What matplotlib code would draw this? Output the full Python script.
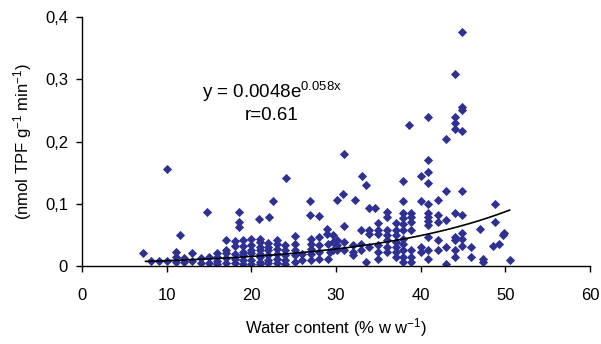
import matplotlib

matplotlib.use("Agg")

import matplotlib.pyplot as plt
import numpy as np

# water content (% w/w) and enzyme activity (nmol TPF g-1 min-1)
water = [
    7.2, 8.1, 9.1, 10.0, 10.0,
    11.1, 11.1, 11.1, 11.6, 12.1, 12.1, 13.0, 13.0, 14.0, 14.0, 14.8,
    15.0, 15.0, 16.0, 16.0, 16.0, 16.0,
    17.0, 17.0, 17.0, 17.0, 17.0,
    18.1, 18.1, 18.1, 18.1, 18.1, 18.6, 18.6, 18.6,
    19.0, 19.0, 19.0, 19.0, 19.0, 19.0,
    20.0, 20.0, 20.0, 20.0, 20.0, 20.0, 20.9,
    21.0, 21.0, 21.0, 21.0, 21.0, 21.0, 21.0, 21.0,
    22.1, 22.0, 22.0, 22.0, 22.0, 22.0, 22.0, 22.6,
    23.0, 23.0, 23.0, 23.0, 23.0, 23.0,
    24.1, 24.0, 24.0, 24.0, 24.0, 24.0,
    25.1, 25.1, 25.1, 25.1, 25.1, 26.0, 26.0,
    26.9, 26.9, 27.0, 27.0, 27.0, 27.0, 27.0,
    28.0, 28.0, 28.0, 28.0, 28.0, 28.9, 28.9, 29.0, 29.0,
    29.3, 29.6, 29.6, 29.6,
    30.1, 30.1, 30.1, 30.1, 30.8,
    30.9, 30.9, 30.9, 30.9,
    32.0, 32.0, 32.0, 32.3, 33.0, 33.0, 33.0, 33.1, 33.6, 33.6,
    33.9, 33.9, 33.9, 33.9, 34.6,
    35.0, 35.0, 35.0, 35.0, 35.0, 35.0,
    36.0, 36.0, 36.0, 36.0, 36.0, 36.0, 36.0,
    37.1, 37.1, 37.1, 37.1, 37.1, 37.1, 37.1,
    37.9, 37.9, 37.9, 37.9, 37.9, 37.9, 37.9, 37.9, 37.9, 37.9, 37.9,
    38.6, 38.9, 38.9, 38.9, 38.9, 38.9, 38.9, 38.9,
    40.0, 40.0, 40.0, 40.0,
    40.9, 40.9, 40.9, 40.9, 40.9, 40.9, 40.9, 40.9, 40.9, 40.9, 40.9, 40.9,
    42.0, 42.0, 42.0, 42.0, 42.0,
    43.0, 43.0, 43.0, 43.0, 43.0,
    44.0, 44.0, 44.0, 44.0, 44.0, 44.0, 44.0, 44.0, 44.0,
    44.9, 44.9, 44.9, 44.9, 44.9, 44.9, 44.9, 44.9, 44.9,
    45.9, 45.9, 47.0, 47.4, 47.4, 48.6, 48.8, 48.8, 49.2, 49.7, 49.9, 50.5,
]
activity = [
    0.021, 0.008, 0.008, 0.156, 0.008,
    0.022, 0.015, 0.007, 0.050, 0.013, 0.007, 0.021, 0.008, 0.013, 0.005, 0.087,
    0.014, 0.005, 0.021, 0.015, 0.008, 0.004,
    0.042, 0.026, 0.021, 0.013, 0.005,
    0.040, 0.032, 0.020, 0.012, 0.005, 0.087, 0.071, 0.062,
    0.032, 0.042, 0.023, 0.018, 0.010, 0.004,
    0.043, 0.034, 0.026, 0.021, 0.010, 0.004, 0.075,
    0.044, 0.039, 0.031, 0.026, 0.020, 0.015, 0.007, 0.004,
    0.079, 0.037, 0.030, 0.025, 0.018, 0.010, 0.005, 0.105,
    0.042, 0.035, 0.028, 0.020, 0.012, 0.005,
    0.141, 0.034, 0.026, 0.018, 0.010, 0.004,
    0.048, 0.036, 0.026, 0.018, 0.007, 0.020, 0.010,
    0.105, 0.082, 0.044, 0.036, 0.028, 0.020, 0.010,
    0.080, 0.047, 0.034, 0.023, 0.012, 0.060, 0.052, 0.036, 0.012,
    0.023, 0.050, 0.038, 0.026,
    0.106, 0.042, 0.034, 0.026, 0.116,
    0.180, 0.064, 0.038, 0.026,
    0.034, 0.023, 0.018, 0.106, 0.058, 0.036, 0.026, 0.145, 0.130, 0.007,
    0.093, 0.058, 0.052, 0.031, 0.093,
    0.069, 0.058, 0.052, 0.034, 0.023, 0.012,
    0.087, 0.079, 0.058, 0.050, 0.042, 0.031, 0.023,
    0.069, 0.058, 0.050, 0.039, 0.031, 0.023, 0.015,
    0.137, 0.104, 0.085, 0.077, 0.067, 0.058, 0.044, 0.036, 0.026, 0.015, 0.007,
    0.227, 0.085, 0.079, 0.070, 0.058, 0.026, 0.015, 0.007,
    0.145, 0.104, 0.031, 0.023,
    0.239, 0.170, 0.151, 0.133, 0.100, 0.085, 0.079, 0.073, 0.066, 0.047, 0.026, 0.012,
    0.106, 0.082, 0.071, 0.042, 0.026,
    0.204, 0.120, 0.074, 0.031, 0.004,
    0.308, 0.239, 0.230, 0.220, 0.085, 0.047, 0.042, 0.026, 0.014,
    0.376, 0.255, 0.250, 0.217, 0.120, 0.082, 0.053, 0.044, 0.032,
    0.031, 0.014, 0.059, 0.011, 0.007, 0.032, 0.100, 0.070, 0.035, 0.050, 0.053, 0.009,
]

# exponential trendline y = a * exp(b * x)
fit_a = 0.0048
fit_b = 0.058
fit_range = (7.5, 50.5)

x_ticks = [0, 10, 20, 30, 40, 50, 60]
y_ticks = [0, 0.1, 0.2, 0.3, 0.4]
y_tick_labels = ["0", "0,1", "0,2", "0,3", "0,4"]

plt.rcParams["font.family"] = ["Liberation Sans", "DejaVu Sans"]
plt.rcParams["mathtext.default"] = "regular"

fig = plt.figure(figsize=(6.01, 3.44), dpi=100)
ax = fig.add_axes([0.1364, 0.2267, 0.8453, 0.7239])

ax.scatter(water, activity, marker="D", s=22, color="#2E3192", linewidths=0, zorder=2)

xs = np.linspace(fit_range[0], fit_range[1], 200)
ax.plot(xs, fit_a * np.exp(fit_b * xs), color="black", linewidth=1.2, zorder=3)

ax.set_xlim(0, 60)
ax.set_ylim(0, 0.4)
ax.set_xticks(x_ticks)
ax.set_yticks(y_ticks)
ax.set_yticklabels(y_tick_labels)
ax.tick_params(direction="out", length=4, width=1, labelsize=12, colors="black")
ax.tick_params(axis="x", pad=12)
ax.tick_params(axis="y", pad=6)
ax.spines["top"].set_visible(False)
ax.spines["right"].set_visible(False)
for side in ("left", "bottom"):
    ax.spines[side].set_linewidth(1)

ax.set_xlabel("Water content (% w w$^{-1}$)", fontsize=12, labelpad=9)
ax.set_ylabel("(nmol TPF g$^{-1}$ min$^{-1}$)", fontsize=12, labelpad=8)

ax.text(22.4, 0.280, "y = 0.0048e$^{0.058x}$", fontsize=13.5, ha="center", va="center")
ax.text(22.4, 0.241, "r=0.61", fontsize=13.5, ha="center", va="center")

fig.savefig("out.png", dpi=100)
